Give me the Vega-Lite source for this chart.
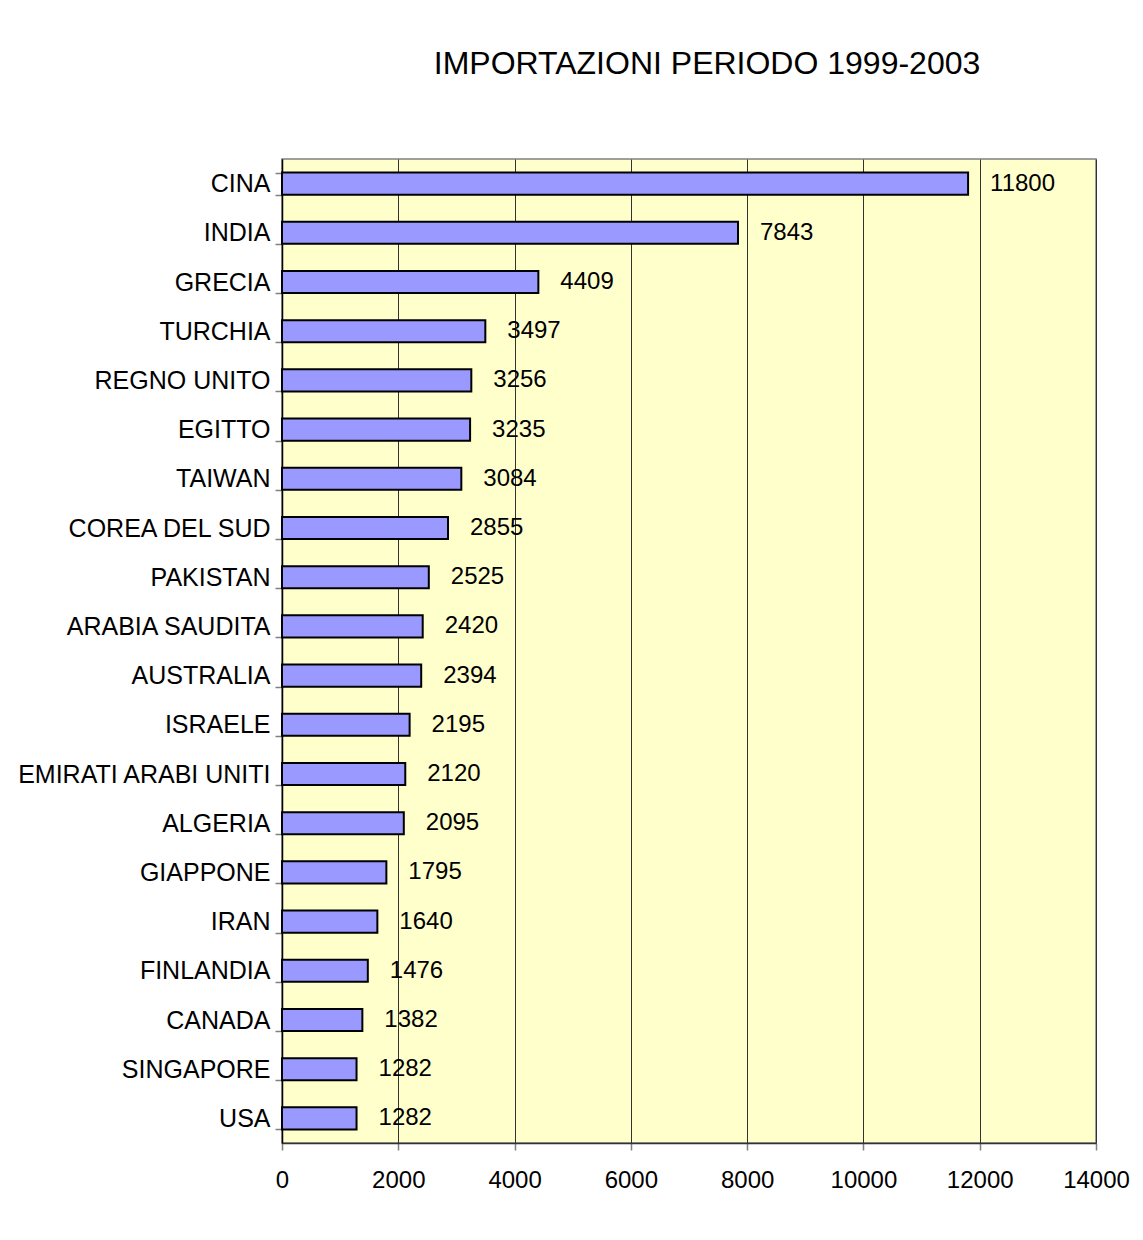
{
  "$schema": "https://vega.github.io/schema/vega-lite/v6.json",
  "autosize": {"type": "none"},
  "padding": {"left": 282, "top": 159, "right": 47, "bottom": 97},
  "width": 814,
  "height": 984,
  "background": "white",
  "title": {
    "text": "IMPORTAZIONI PERIODO 1999-2003",
    "font": "Liberation Sans",
    "fontSize": 32,
    "fontWeight": "normal",
    "color": "black",
    "anchor": "middle",
    "dx": 18,
    "offset": 66
  },
  "config": {
    "view": {"fill": "#FFFFCC", "stroke": "#808080", "strokeWidth": 1.5},
    "font": "Liberation Sans"
  },
  "data": {
    "values": [
      {"paese": "CINA", "valore": 11800},
      {"paese": "INDIA", "valore": 7843},
      {"paese": "GRECIA", "valore": 4409},
      {"paese": "TURCHIA", "valore": 3497},
      {"paese": "REGNO UNITO", "valore": 3256},
      {"paese": "EGITTO", "valore": 3235},
      {"paese": "TAIWAN", "valore": 3084},
      {"paese": "COREA DEL SUD", "valore": 2855},
      {"paese": "PAKISTAN", "valore": 2525},
      {"paese": "ARABIA SAUDITA", "valore": 2420},
      {"paese": "AUSTRALIA", "valore": 2394},
      {"paese": "ISRAELE", "valore": 2195},
      {"paese": "EMIRATI ARABI UNITI", "valore": 2120},
      {"paese": "ALGERIA", "valore": 2095},
      {"paese": "GIAPPONE", "valore": 1795},
      {"paese": "IRAN", "valore": 1640},
      {"paese": "FINLANDIA", "valore": 1476},
      {"paese": "CANADA", "valore": 1382},
      {"paese": "SINGAPORE", "valore": 1282},
      {"paese": "USA", "valore": 1282}
    ]
  },
  "encoding": {
    "y": {
      "field": "paese",
      "type": "nominal",
      "sort": null,
      "scale": {"paddingInner": 0.55, "paddingOuter": 0.275},
      "axis": {
        "title": null,
        "tickBand": "extent",
        "ticks": true,
        "tickSize": 7,
        "tickColor": "#808080",
        "tickWidth": 1.5,
        "domainColor": "black",
        "domainWidth": 1.5,
        "labelFont": "Liberation Sans",
        "labelFontSize": 25,
        "labelColor": "black",
        "labelPadding": 5,
        "labelLimit": 400,
        "grid": false
      }
    },
    "x": {
      "field": "valore",
      "type": "quantitative",
      "scale": {"domain": [0, 14000], "nice": false},
      "axis": {
        "title": null,
        "values": [0, 2000, 4000, 6000, 8000, 10000, 12000, 14000],
        "format": "d",
        "grid": true,
        "gridColor": "#333333",
        "gridWidth": 1,
        "gridOpacity": 1,
        "tickSize": 7,
        "tickColor": "#808080",
        "tickWidth": 1.5,
        "domainColor": "#333333",
        "domainWidth": 1.5,
        "labelFont": "Liberation Sans",
        "labelFontSize": 24,
        "labelColor": "black",
        "labelPadding": 18,
        "labelFlush": false
      }
    }
  },
  "layer": [
    {
      "mark": {"type": "bar", "fill": "#9999FF", "stroke": "black", "strokeWidth": 2}
    },
    {
      "mark": {
        "type": "text",
        "align": "left",
        "baseline": "middle",
        "dx": 22,
        "fontSize": 24,
        "font": "Liberation Sans",
        "color": "black"
      },
      "encoding": {"text": {"field": "valore", "type": "quantitative", "format": "d"}}
    }
  ]
}
